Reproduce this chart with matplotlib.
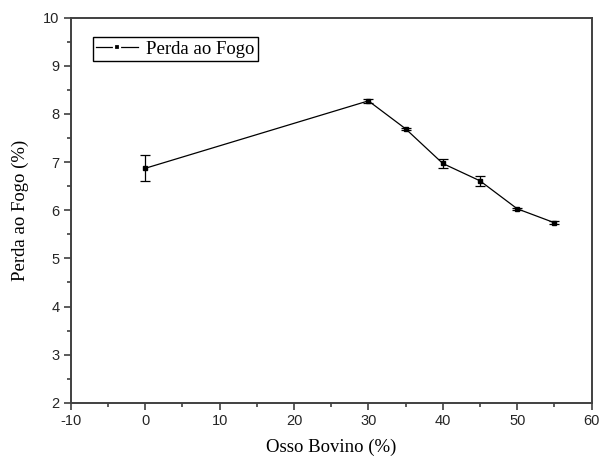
import matplotlib
matplotlib.use('Agg')
import matplotlib.pyplot as plt
from matplotlib.lines import Line2D
from matplotlib.ticker import MultipleLocator

# data
osso = [0, 30, 35, 40, 45, 50, 55]
perda = [6.87, 8.27, 7.69, 6.97, 6.61, 6.03, 5.74]
erro = [0.27, 0.04, 0.02, 0.09, 0.10, 0.02, 0.03]

AXC = '#404040'
SERIF = 'Liberation Serif'
SANS = 'Liberation Sans'

plt.rcParams['axes.unicode_minus'] = False

fig = plt.figure(figsize=(6, 4.61), dpi=100)
fig.patch.set_facecolor('white')
ax = fig.add_axes([0.118, 0.126, 0.868, 0.836])

ax.errorbar(osso, perda, yerr=erro, color='black', lw=0.9,
            marker='s', ms=3.5, capsize=3.5, capthick=0.9, elinewidth=0.9)

ax.set_xlim(-10, 60)
ax.set_ylim(2, 10)
ax.xaxis.set_major_locator(MultipleLocator(10))
ax.xaxis.set_minor_locator(MultipleLocator(5))
ax.yaxis.set_major_locator(MultipleLocator(1))
ax.yaxis.set_minor_locator(MultipleLocator(0.5))

for s in ax.spines.values():
    s.set_color(AXC)
    s.set_linewidth(1.4)

ax.tick_params(which='major', direction='out', length=5, width=1.2,
               color=AXC, labelsize=10.5, labelcolor='#252525', pad=3)
ax.tick_params(which='minor', direction='out', length=3, width=1.2, color=AXC)
for lab in ax.get_xticklabels() + ax.get_yticklabels():
    lab.set_family(SANS)

ax.set_xlabel('Osso Bovino (%)', fontsize=13.5, family=SERIF, labelpad=8)
ax.set_ylabel('Perda ao Fogo (%)', fontsize=13.5, family=SERIF, labelpad=10)

# legend key: line - gap - marker - gap - line
handle = Line2D([], [], color='black', lw=0.9, marker='s', ms=5,
                mfc='black', mec='white', mew=1.6)
leg = ax.legend([handle], ['Perda ao Fogo'], loc='upper left',
                bbox_to_anchor=(0.042, 0.95), numpoints=1,
                handlelength=2.2, fancybox=False, framealpha=1, borderpad=0.2,
                handletextpad=0.45, borderaxespad=0,
                prop={'family': SERIF, 'size': 13.5})
leg.get_frame().set_edgecolor('black')
leg.get_frame().set_linewidth(1.0)

plt.savefig('out.png', dpi=100, facecolor='white')
